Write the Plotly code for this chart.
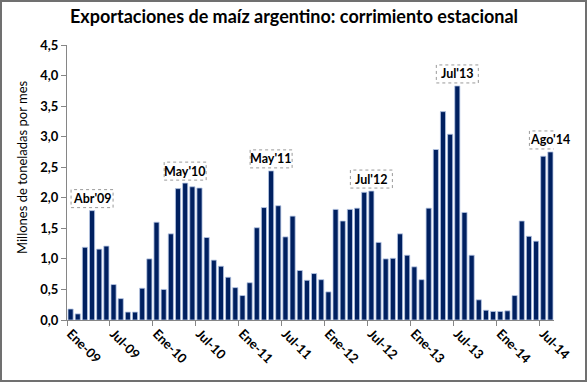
import plotly.graph_objects as go

meses = ["Ene", "Feb", "Mar", "Abr", "May", "Jun", "Jul", "Ago", "Sep", "Oct", "Nov", "Dic"]
categorias = [f"{m}-{y:02d}" for y in range(9, 15) for m in meses][:68]

exportaciones = [
    0.18, 0.10, 1.19, 1.79, 1.16, 1.21, 0.58, 0.35, 0.13, 0.13, 0.52, 1.00,
    1.60, 0.50, 1.41, 2.15, 2.24, 2.18, 2.16, 1.35, 0.98, 0.88, 0.70, 0.53,
    0.40, 0.61, 1.51, 1.84, 2.44, 1.87, 1.36, 1.70, 0.81, 0.65, 0.76, 0.66,
    0.46, 1.81, 1.62, 1.81, 1.83, 2.09, 2.11, 1.27, 1.00, 1.01, 1.41, 1.06,
    0.87, 0.66, 1.83, 2.79, 3.41, 3.04, 3.83, 1.76, 1.06, 0.33, 0.16, 0.14,
    0.14, 0.15, 0.40, 1.62, 1.37, 1.29, 2.68, 2.75,
]

etiquetas_pico = {"Abr-09": "Abr'09", "May-10": "May'10", "May-11": "May'11",
                  "Jul-12": "Jul'12", "Jul-13": "Jul'13", "Ago-14": "Ago'14"}

tick_idx = list(range(0, 68, 6))
tick_text = [categorias[i] for i in tick_idx]

FONT = "Lato"
x = list(range(len(categorias)))

fig = go.Figure()
fig.add_trace(go.Bar(
    x=x, y=exportaciones,
    marker=dict(color="#002060", line=dict(color="#b8c8e6", width=0.8)),
    hovertext=categorias,
))

for cat, txt in etiquetas_pico.items():
    i = categorias.index(cat)
    v = exportaciones[i]
    fig.add_shape(type="rect", xref="x", yref="y",
                  xsizemode="pixel", ysizemode="pixel",
                  xanchor=i, yanchor=v,
                  x0=-21, x1=21, y0=3, y1=21,
                  line=dict(color="#9a9a9a", width=1, dash="dot"),
                  fillcolor="white")
    fig.add_annotation(x=i, y=v, text=txt, showarrow=False,
                       yanchor="middle", yshift=12,
                       font=dict(family=FONT, size=12.5, color="black", weight="bold"))

# y axis title (placed like the original, centred on the chart)
fig.add_annotation(xref="paper", yref="paper", x=(22-67)/487, y=(320-168)/275,
                   text="Millones de toneladas por mes", textangle=-90,
                   showarrow=False, xanchor="center", yanchor="middle",
                   font=dict(family=FONT, size=13, color="black"))

# outer chart border
fig.add_shape(type="rect", xref="paper", yref="paper",
              x0=-66/487, x1=(586-67)/487, y0=(320-381)/275, y1=319/275,
              line=dict(color="#707070", width=2))

fig.update_layout(
    width=588, height=383,
    margin=dict(l=67, r=34, t=45, b=63),
    paper_bgcolor="white", plot_bgcolor="white",
    separators=",.",
    showlegend=False,
    bargap=0.28,
    title=dict(text="<b>Exportaciones de maíz argentino: corrimiento estacional</b>",
               x=0.5, xanchor="center", y=1 - 17/383, yanchor="middle",
               font=dict(family=FONT, size=18, color="black")),
    xaxis=dict(
        range=[-0.5, 67.5],
        tickmode="array", tickvals=tick_idx, ticktext=tick_text,
        tickangle=45, ticklen=0,
        tickfont=dict(family=FONT, size=13, color="black", weight="bold"),
        showline=True, linecolor="#868686", linewidth=1,
        showgrid=False, zeroline=False,
        minor=dict(tickvals=[i - 0.5 for i in tick_idx], ticks="outside",
                   ticklen=5, tickcolor="#868686", showgrid=False),
    ),
    yaxis=dict(
        range=[0, 4.5], dtick=0.5, tickformat=".1f",
        ticks="outside", ticklen=5, tickcolor="#868686",
        tickfont=dict(family=FONT, size=13, color="black", weight="bold"),
        showline=True, linecolor="#868686", linewidth=1,
        showgrid=False, zeroline=False,
    ),
)

fig.write_html("out.html", config={"displayModeBar": False},
               post_script="document.body.style.margin='0';")
